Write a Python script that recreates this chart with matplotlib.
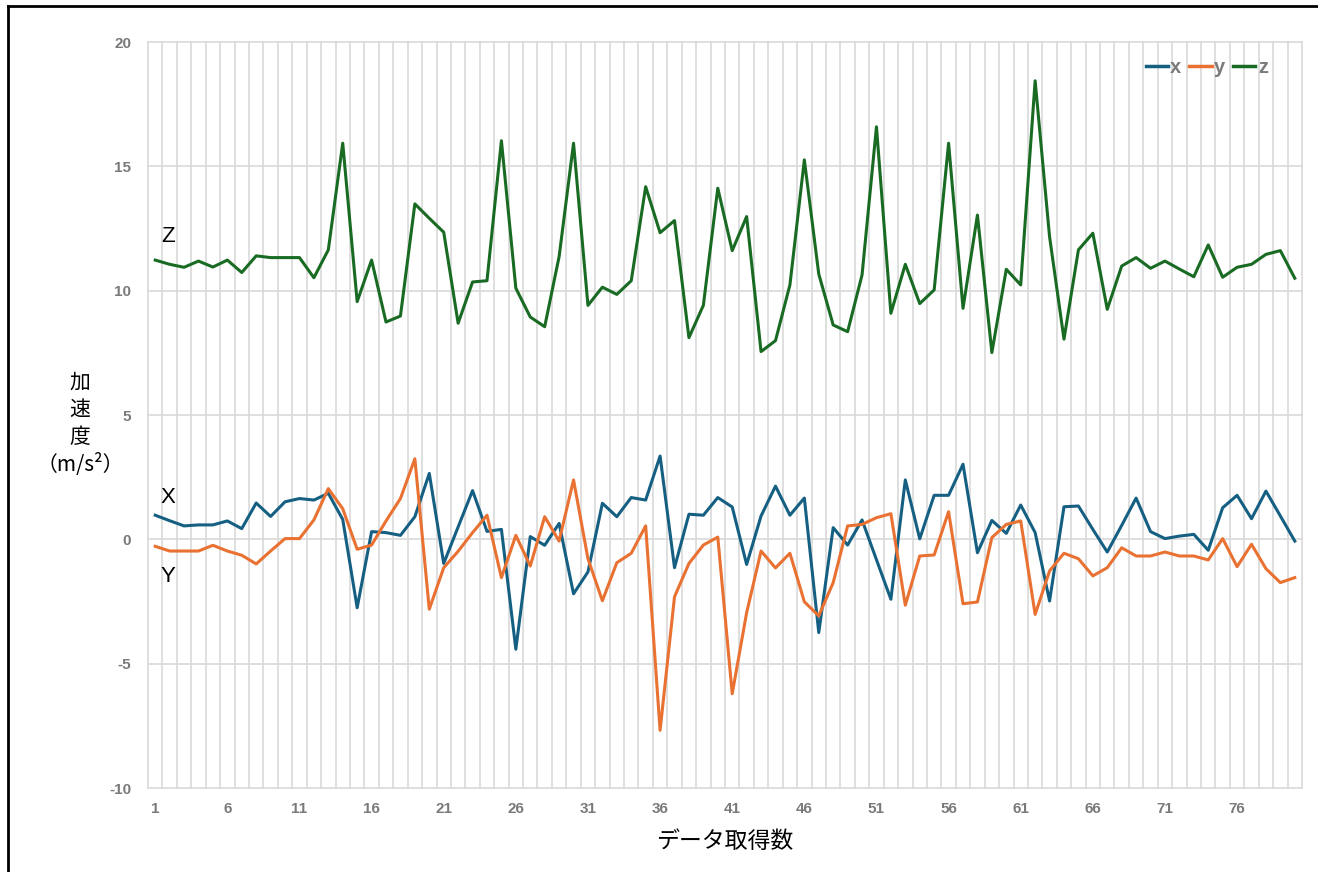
import numpy as np
import matplotlib
matplotlib.use('Agg')
import matplotlib.pyplot as plt
from matplotlib.lines import Line2D

# %% data (acceleration per sample)
x_acc = [0.97, 0.75, 0.54, 0.58, 0.58, 0.74, 0.43, 1.46, 0.92, 1.51,
         1.64, 1.58, 1.85, 0.80, -2.75, 0.31, 0.27, 0.16, 0.91, 2.65,
         -0.97, 0.50, 1.96, 0.32, 0.40, -4.42, 0.11, -0.24, 0.64, -2.19,
         -1.31, 1.45, 0.91, 1.68, 1.58, 3.35, -1.14, 1.01, 0.97, 1.68,
         1.30, -1.01, 0.94, 2.14, 0.97, 1.66, -3.75, 0.47, -0.23, 0.78,
         -0.82, -2.41, 2.39, 0.02, 1.77, 1.77, 3.02, -0.54, 0.76, 0.24,
         1.38, 0.27, -2.48, 1.31, 1.34, 0.40, -0.51, 0.56, 1.66, 0.31,
         0.03, 0.13, 0.20, -0.44, 1.27, 1.77, 0.83, 1.94, 0.94, -0.07]
y_acc = [-0.28, -0.47, -0.47, -0.47, -0.24, -0.47, -0.64, -0.99, -0.47, 0.03,
         0.03, 0.78, 2.04, 1.23, -0.40, -0.23, 0.74, 1.64, 3.24, -2.81,
         -1.14, -0.48, 0.27, 0.97, -1.54, 0.16, -1.07, 0.91, -0.07, 2.39,
         -0.78, -2.47, -0.94, -0.56, 0.54, -7.68, -2.31, -0.97, -0.23, 0.09,
         -6.21, -2.95, -0.47, -1.15, -0.56, -2.51, -3.08, -1.74, 0.54, 0.60,
         0.87, 1.03, -2.65, -0.67, -0.63, 1.11, -2.59, -2.52, 0.07, 0.60,
         0.74, -3.02, -1.27, -0.56, -0.78, -1.47, -1.14, -0.34, -0.67, -0.67,
         -0.51, -0.67, -0.67, -0.83, 0.03, -1.10, -0.20, -1.18, -1.74, -1.54]
z_acc = [11.23, 11.06, 10.94, 11.19, 10.95, 11.23, 10.73, 11.40, 11.33, 11.33,
         11.33, 10.52, 11.64, 15.93, 9.56, 11.23, 8.74, 8.98, 13.49, 12.91,
         12.35, 8.69, 10.35, 10.40, 16.03, 10.10, 8.94, 8.55, 11.37, 15.93,
         9.41, 10.14, 9.85, 10.40, 14.18, 12.33, 12.82, 8.11, 9.41, 14.12,
         11.61, 12.98, 7.55, 7.99, 10.23, 15.26, 10.67, 8.62, 8.35, 10.63,
         16.59, 9.09, 11.06, 9.48, 10.03, 15.93, 9.29, 13.04, 7.51, 10.86,
         10.23, 18.44, 12.17, 8.05, 11.64, 12.31, 9.25, 10.99, 11.33, 10.90,
         11.19, 10.87, 10.56, 11.84, 10.54, 10.94, 11.06, 11.46, 11.61, 10.50]
series_names = ['x', 'y', 'z']
series_colors = ['#156082', '#E97132', '#196B24']

n = len(x_acc)
idx = np.arange(1, n + 1)

plt.rcParams['axes.unicode_minus'] = False
jp = ['Noto Sans CJK JP', 'DejaVu Sans']
tick_color = '#7a7a7a'
grid_color = '#D9D9D9'

# %% figure
fig = plt.figure(figsize=(13.18, 8.72), dpi=100)
ax = fig.add_axes([148/1318, 1 - 788/872, (1302-148)/1318, (788-42)/872])

for data, name, col in zip([x_acc, y_acc, z_acc], series_names, series_colors):
    ax.plot(idx, data, color=col, lw=2.2, label=name, zorder=3)

ax.set_xlim(0.5, n + 0.5)
ax.set_ylim(-10, 20)
ax.set_yticks(np.arange(-10, 21, 5))
ax.set_xticks(np.arange(1, n + 1, 5))

# gridlines: horizontal at major y, vertical between categories
for yv in np.arange(-10, 21, 5):
    ax.axhline(yv, color=grid_color, lw=1.2, zorder=1, clip_on=False)
for xv in np.arange(0.5, n + 1, 1):
    ax.axvline(xv, color=grid_color, lw=1.2, zorder=1, clip_on=False)

for s in ax.spines.values():
    s.set_visible(False)
ax.tick_params(axis='both', which='both', length=0)
ax.tick_params(axis='y', pad=12)
ax.tick_params(axis='x', pad=10)
for lab in ax.get_xticklabels() + ax.get_yticklabels():
    lab.set_family('Liberation Sans')
    lab.set_fontsize(11)
    lab.set_fontweight('bold')
    lab.set_color(tick_color)

# axis titles
ax.set_xlabel('データ取得数', family=jp, fontsize=16.5, labelpad=10)
fig.text(80/1318, 1 - 424/872, '加\n速\n度\n（m/s²）', family=jp, fontsize=15,
         ha='center', va='center', linespacing=1.3)

# series tags
for tag, ty in [('Z', 237), ('X', 497), ('Y', 577)]:
    fig.text(168/1318, 1 - ty/872, tag, fontsize=16, family='Liberation Sans',
             ha='center', va='center')

# legend
handles = [Line2D([0], [0], color=c, lw=2.5) for c in series_colors]
leg = ax.legend(handles, series_names, loc='upper right', ncol=3, frameon=False,
                bbox_to_anchor=(1286/1318, 1 - 40/872), bbox_transform=fig.transFigure,
                handlelength=1.1, handletextpad=0.12, columnspacing=0.4,
                prop={'family': 'Liberation Sans', 'size': 14.5, 'weight': 'bold'})
for t in leg.get_texts():
    t.set_color(tick_color)

# outer border (left and top edges only)
fig.add_artist(Line2D([7.5/1318, 7.5/1318], [0, 1 - 6/872], color='black', lw=2,
                      transform=fig.transFigure))
fig.add_artist(Line2D([7.5/1318, 1], [1 - 6/872, 1 - 6/872], color='black', lw=2,
                      transform=fig.transFigure))

fig.savefig('out.png', dpi=100)
